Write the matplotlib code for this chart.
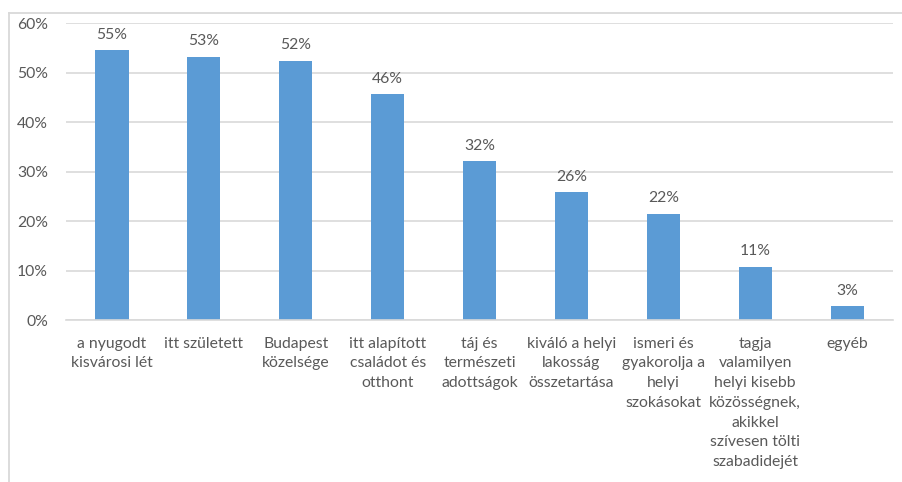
import matplotlib
matplotlib.use("Agg")
import matplotlib.pyplot as plt
from matplotlib.lines import Line2D
from matplotlib.ticker import PercentFormatter

# category labels (line breaks as in the original chart)
categories = [
    "a nyugodt\nkisvárosi lét",
    "itt született",
    "Budapest\nközelsége",
    "itt alapított\ncsaládot és\notthont",
    "táj és\ntermészeti\nadottságok",
    "kiváló a helyi\nlakosság\nösszetartása",
    "ismeri és\ngyakorolja a\nhelyi\nszokásokat",
    "tagja\nvalamilyen\nhelyi kisebb\nközösségnek,\nakikkel\nszívesen tölti\nszabadidejét",
    "egyéb",
]
# share of respondents (%)
values = [54.6, 53.2, 52.4, 45.6, 32.1, 25.9, 21.5, 10.8, 2.8]
yticks = [0, 10, 20, 30, 40, 50, 60]

BAR = "#5B9BD5"
TEXT = "#595959"
GRID = "#D9D9D9"

plt.rcParams["font.family"] = ["Lato", "DejaVu Sans"]

fig = plt.figure(figsize=(9.03, 4.82), dpi=100)
ax = fig.add_axes([0.0731, 0.336, 0.916, 0.616])

x = list(range(len(categories)))
bars = ax.bar(x, values, width=0.36, color=BAR, zorder=3)

for b, v in zip(bars, values):
    ax.annotate(f"{v:.0f}%", (b.get_x() + b.get_width() / 2, v),
                xytext=(0, 6), textcoords="offset points",
                ha="center", va="bottom", fontsize=11.3, color=TEXT)

ax.set_xlim(-0.5, len(categories) - 0.5)
ax.set_ylim(0, 60)
ax.set_yticks(yticks)
ax.yaxis.set_major_formatter(PercentFormatter(decimals=0))
ax.set_xticks(x)
ax.set_xticklabels(categories, fontsize=11.3, color=TEXT, linespacing=1.52, va="top")
ax.tick_params(axis="y", length=0, pad=13, labelsize=11.3, labelcolor=TEXT)
ax.tick_params(axis="x", length=0, pad=12)

ax.grid(axis="y", color=GRID, linewidth=1.2, zorder=0)
for s in ["top", "right", "left"]:
    ax.spines[s].set_visible(False)
ax.spines["bottom"].set_color(GRID)
ax.spines["bottom"].set_linewidth(1.2)
ax.spines["bottom"].set_zorder(4)

# outer chart frame (cut off at the right and bottom)
fig.add_artist(Line2D([0.01, 1.0], [0.973, 0.973], color=GRID, linewidth=1.3))
fig.add_artist(Line2D([0.01, 0.01], [0.0, 0.973], color=GRID, linewidth=1.3))

fig.savefig("out.png", dpi=100)
